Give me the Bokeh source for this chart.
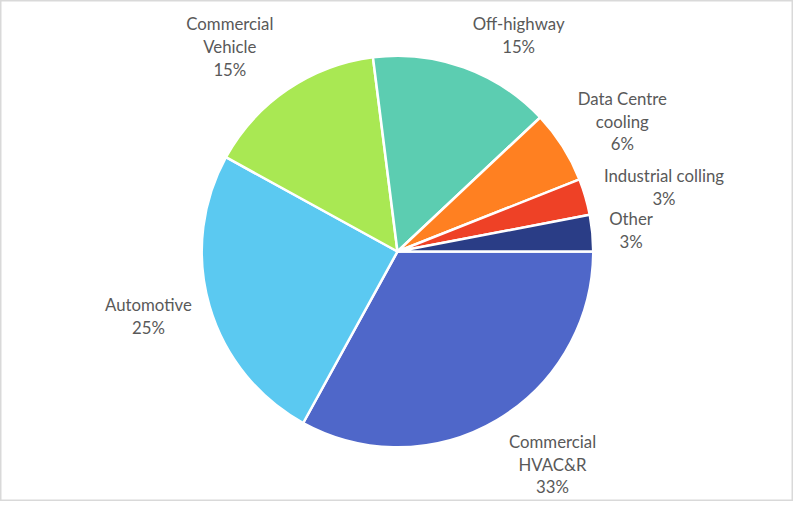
import numpy as np
from bokeh.plotting import figure
from bokeh.models import Range1d, ColumnDataSource
from bokeh.core.properties import value
from bokeh.embed import file_html
from bokeh.resources import INLINE

# ---- data ----
categories = ["Commercial HVAC&R", "Automotive", "Commercial Vehicle", "Off-highway",
              "Data Centre cooling", "Industrial colling", "Other"]
label_lines = [["Commercial", "HVAC&R"], ["Automotive"], ["Commercial", "Vehicle"],
               ["Off-highway"], ["Data Centre", "cooling"], ["Industrial colling"], ["Other"]]
shares = [33, 25, 15, 15, 6, 3, 3]
colors = ["#4F67C9", "#5BC9F1", "#A9E853", "#5CCDB1", "#FF8021", "#EE4126", "#2A3D86"]

# ---- layout constants (reference-image pixel coordinates, scaled to fit) ----
REF_W, REF_H = 809, 517
W, H = 793, 501
s = H / REF_H                      # px per reference unit
span_x = W / s
pad_x = (span_x - REF_W) / 2
cx, cy, R = 405, 259, 202
label_anchor = [(565, 455), (148, 314), (232, 24), (530, 24), (637, 101), (680, 181), (646, 225)]
LINE_H = 23.5

p = figure(width=W, height=H, output_backend="svg", toolbar_location=None,
           x_range=Range1d(-pad_x, REF_W + pad_x), y_range=Range1d(-REF_H, 0),
           min_border=0)
p.axis.visible = False
p.grid.visible = False
p.outline_line_color = "#D9D9D9"
p.outline_line_width = 2
p.background_fill_color = "white"
p.border_fill_color = "white"

vals = np.array(shares, dtype=float)
frac = vals / vals.sum()
ends = -np.cumsum(frac) * 2 * np.pi
starts = np.concatenate([[0.0], ends[:-1]])
src = ColumnDataSource(dict(x=[cx] * len(vals), y=[-cy] * len(vals), start=starts, end=ends,
                            color=colors, cat=categories))
p.wedge(x="x", y="y", radius=R, start_angle="start", end_angle="end", direction="clock",
        fill_color="color", line_color="white", line_width=2.5, source=src)

tx, ty, tt = [], [], []
for (ax, ay), lines, v in zip(label_anchor, label_lines, shares):
    all_lines = lines + [f"{v}%"]
    for i, t in enumerate(all_lines):
        tx.append(ax)
        ty.append(-(ay + i * LINE_H))
        tt.append(t)
p.text(x=tx, y=ty, text=tt, text_align="center", text_baseline="middle",
       text_font=value("Lato"), text_font_size="16.8px", text_color="#595959")

open("out.html", "w").write(file_html(p, INLINE))
